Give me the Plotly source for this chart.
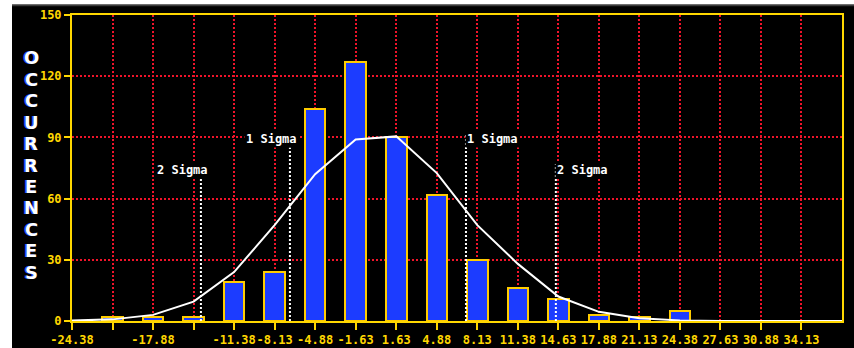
import plotly.graph_objects as go

# ---- data ----
tick_vals = [-24.38, -21.13, -17.88, -14.63, -11.38, -8.13, -4.88, -1.63, 1.63, 4.88,
             8.13, 11.38, 14.63, 17.88, 21.13, 24.38, 27.63, 30.88, 34.13]
tick_text = ["-24.38", "", "-17.88", "", "-11.38", "-8.13", "-4.88", "-1.63", "1.63", "4.88",
             "8.13", "11.38", "14.63", "17.88", "21.13", "24.38", "27.63", "30.88", "34.13"]

bin_centers = [-21.13, -17.88, -14.63, -11.38, -8.13, -4.88, -1.63, 1.63, 4.88,
               8.13, 11.38, 14.63, 17.88, 21.13, 24.38, 27.63, 30.88, 34.13]
occurrences = [2, 2, 2, 19, 24, 104, 127, 90, 62, 30, 16, 11, 3, 2, 5, 0, 0, 0]

curve_x = [-24.38, -21.13, -17.88, -14.63, -11.38, -8.13, -4.88, -1.63, 1.63, 4.88,
           8.13, 11.38, 14.63, 17.88, 21.13, 24.38, 27.63, 30.88, 34.13, 37.38]
curve_y = [0.2, 0.8, 3, 9.5, 24, 47, 72, 89, 90.5, 72.5,
           47, 28, 12, 4.5, 1.3, 0.3, 0, 0, 0, 0]

sigma_x = [-14.04, -6.90, 7.22, 14.43]
sigma_top = [70, 85, 92, 77]
sigma_label_y = [74, 89, 89, 74]
sigma_labels = ["2 Sigma", "1 Sigma", "1 Sigma", "2 Sigma"]

y_ticks = [0, 30, 60, 90, 120, 150]
y_title = "OCCURRENCES"

YELLOW = "#FFD700"
RED = "#F0142A"
MONO = "DejaVu Sans Mono"

W, H = 854, 348
ML, MR, MT, MB = 72, 12, 15, 27
PW, PH = W - ML - MR, H - MT - MB


def px_to_paper_x(px):
    return (px - ML) / PW


def py_to_paper_y(py):
    return (H - MB - py) / PH


fig = go.Figure()

fig.add_trace(go.Bar(
    x=bin_centers, y=occurrences, width=1.65,
    marker=dict(color="#1C3CFF", line=dict(color="#FFCC00", width=2)),
    hoverinfo="skip",
))

fig.add_trace(go.Scatter(
    x=curve_x, y=curve_y, mode="lines",
    line=dict(color="white", width=2), hoverinfo="skip",
))

for sx, st in zip(sigma_x, sigma_top):
    fig.add_trace(go.Scatter(
        x=[sx, sx], y=[0, st], mode="lines",
        line=dict(color="white", width=2, dash="2px,2px"), hoverinfo="skip",
    ))

annotations = []
for sx, ly, lab in zip(sigma_x, sigma_label_y, sigma_labels):
    left_side = sx < 0
    annotations.append(dict(
        x=sx, y=ly, xref="x", yref="y", text=lab, showarrow=False,
        xanchor="right" if left_side else "left", yanchor="middle",
        xshift=9 if left_side else -1,
        bgcolor="black", borderpad=1,
        font=dict(family=MONO, size=12, color="white", weight="bold"),
    ))

# stacked vertical axis title
n = len(y_title)
top_py, bot_py = 58, 272
for i, ch in enumerate(y_title):
    py = top_py + (bot_py - top_py) * i / (n - 1)
    annotations.append(dict(
        x=px_to_paper_x(31), y=py_to_paper_y(py), xref="paper", yref="paper",
        text=ch, showarrow=False, xanchor="center", yanchor="middle",
        font=dict(family="DejaVu Sans", size=18, color="white", weight="bold",
                  shadow="-1.5px 0px 0px #2F55FF"),
    ))

shapes = [
    dict(type="rect", xref="paper", yref="paper",
         x0=px_to_paper_x(-5), x1=px_to_paper_x(12), y0=py_to_paper_y(H + 5), y1=py_to_paper_y(-5),
         fillcolor="white", line=dict(width=0), layer="above"),
    dict(type="rect", xref="paper", yref="paper",
         x0=px_to_paper_x(-5), x1=px_to_paper_x(W + 5), y0=py_to_paper_y(4.5), y1=py_to_paper_y(-5),
         fillcolor="white", line=dict(width=0), layer="above"),
    dict(type="line", xref="paper", yref="paper",
         x0=px_to_paper_x(12), x1=px_to_paper_x(W + 5),
         y0=py_to_paper_y(5.5), y1=py_to_paper_y(5.5),
         line=dict(color="#3a3a3a", width=1.5), layer="above"),
]

fig.update_layout(
    width=W, height=H,
    margin=dict(l=ML, r=MR, t=MT, b=MB, autoexpand=False),
    paper_bgcolor="black", plot_bgcolor="black",
    showlegend=False, bargap=0,
    annotations=annotations, shapes=shapes,
    xaxis=dict(
        range=[-24.38, 37.38], tickmode="array", tickvals=tick_vals, ticktext=tick_text,
        tickangle=0, automargin=False,
        showgrid=True, gridcolor=RED, gridwidth=2, griddash="2px,2px",
        showline=True, linecolor=YELLOW, linewidth=2, mirror=True,
        ticks="outside", ticklen=7, tickwidth=2, tickcolor=YELLOW,
        tickfont=dict(family=MONO, size=12, color=YELLOW, weight="bold"),
        zeroline=False, fixedrange=True,
    ),
    yaxis=dict(
        range=[0, 150], tickmode="array", tickvals=y_ticks, automargin=False,
        showgrid=True, gridcolor=RED, gridwidth=2, griddash="2px,2px",
        showline=True, linecolor=YELLOW, linewidth=2, mirror=True,
        ticks="outside", ticklen=6, tickwidth=2, tickcolor=YELLOW,
        tickfont=dict(family=MONO, size=12, color=YELLOW, weight="bold"),
        zeroline=False, fixedrange=True,
    ),
)

fig.write_html(
    "out.html",
    config={"displayModeBar": False},
    post_script="document.body.style.margin='0';document.body.style.overflow='hidden';",
)
